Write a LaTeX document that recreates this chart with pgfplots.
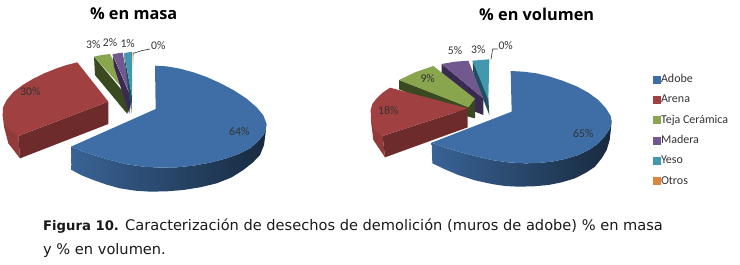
\documentclass[border=0pt]{standalone}
\usepackage{pgfplots}
\pgfplotsset{compat=1.18}
\usepackage{fontspec}
\setmainfont{Carlito}
\newfontfamily\capfont{DejaVu Sans}
\newfontfamily\titfont{Open Sans}
\definecolor{cBlue}{HTML}{3F6EA6}
\definecolor{cRed}{HTML}{A04040}
\definecolor{cGreen}{HTML}{89A54E}
\definecolor{cPurple}{HTML}{71588F}
\definecolor{cTeal}{HTML}{4198AF}
\definecolor{cOrange}{HTML}{DB843D}
\definecolor{dGreen}{HTML}{3A4A20}
\definecolor{dPurple}{HTML}{3A2A50}
\definecolor{dTeal}{HTML}{1F4F5E}
\definecolor{dRed}{HTML}{6E2B2B}
\definecolor{lab}{HTML}{333333}
\pgfplotsset{
  canvas/.style={hide axis, scale only axis, width=740pt, height=265pt,
    ymin=0, ymax=795, y dir=reverse, clip=false, axis on top=false},
  face/.style={draw=none, no markers, forget plot, line width=0pt},
  blueside/.style={face, shade, left color=cBlue!90!black, middle color=cBlue!62!black, right color=cBlue!38!black, shading angle=90},
}
\begin{document}
\begin{tikzpicture}
\path[use as bounding box] (0pt,0pt) rectangle (740pt,265pt);
\begin{axis}[canvas, at={(0pt,0pt)}, xmin=0, xmax=2220,
  legend cell align=left,
  legend style={at={(axis cs:1959,224)}, anchor=north west, draw=none, fill=none,
    inner sep=0pt, outer sep=0pt, row sep=10.3pt, font=\fontsize{12}{12}\selectfont\color{lab},
    nodes={inner sep=0pt, text height=8pt, text depth=2pt, xshift=-2pt}},
  legend image code/.code={\path[#1,draw=none] (0pt,-4pt) rectangle (8pt,4pt);}]
% legend
\addlegendimage{fill=cBlue}\addlegendentry{Adobe}
\addlegendimage{fill=cRed}\addlegendentry{Arena}
\addlegendimage{fill=cGreen}\addlegendentry{Teja Cerámica}
\addlegendimage{fill=cPurple}\addlegendentry{Madera}
\addlegendimage{fill=cTeal}\addlegendentry{Yeso}
\addlegendimage{fill=cOrange}\addlegendentry{Otros}
% green, left
\addplot[face, fill=dGreen] coordinates {(282,170)(390,300)(382,342)(285,225)} --cycle;
\addplot[face, fill=cGreen] coordinates {(282,170)(305,165)(330,162)(392,292)} --cycle;
% purple, left
\addplot[face, fill=dPurple] coordinates {(338,165)(392,290)(388,342)(342,200)} --cycle;
\addplot[face, fill=cPurple] coordinates {(338,163)(352,160)(368,158)(393,290)} --cycle;
% teal, left
\addplot[face, fill=dTeal] coordinates {(372,160)(396,290)(394,340)(375,190)} --cycle;
\addplot[face, fill=cTeal] coordinates {(372,160)(384,157)(396,156)(396,290)} --cycle;
\addplot[face, fill=cOrange!60!white] coordinates {(397,157)(402,157)(399,200)} --cycle;
% red, left
\addplot[face, fill=cRed!92!black] coordinates {(8,345)(12,380)(25,430)(60,475)(55,408)} --cycle;
\addplot[face, fill=dRed] coordinates {(55,408)(325,305)(325,372)(60,475)} --cycle;
\addplot[face, fill=cRed] coordinates {(232,187)(200,195)(170,205)(135,219)(100,236)(68,255)(40,276)(20,300)(9,322)(8,345)(15,372)(32,392)(55,408)(325,305)} --cycle;
% blue, left
\addplot[blueside] coordinates {(800,372)(797,390)(790,405)(773,425)(750,445)(718,461)(680,475)(630,488)(580,497)(530,502)(480,503)(430,500)(380,493)(330,480)(280,465)(245,453)(213,440)(215,510)(245,526)(280,540)(320,554)(360,565)(405,572)(450,575)(500,574)(550,570)(600,562)(650,550)(695,532)(730,510)(758,488)(780,465)(792,435)(796,405)} --cycle;
\addplot[face, fill=cBlue] coordinates {(465,197)(500,199)(540,206)(580,217)(620,231)(660,249)(700,270)(740,296)(770,322)(790,346)(800,372)(797,390)(790,405)(773,425)(750,445)(718,461)(680,475)(630,488)(580,497)(530,502)(480,503)(430,500)(380,493)(330,480)(280,465)(245,453)(213,440)(467,327)} --cycle;
% leader
\addplot[no markers, forget plot, color=black!80, line width=0.6pt] coordinates {(400,160)(425,152)(450,147)};
% text
\node[font=\titfont\fontsize{16.3}{18}\selectfont\bfseries] at (axis cs:401,42) {\% en masa};
\begin{scope}[every node/.style={font=\fontsize{11.7}{12}\selectfont, text=lab}]
\node at (axis cs:91,276) {30\%};
\node at (axis cs:718,395) {64\%};
\node at (axis cs:280,134) {3\%};
\node at (axis cs:330,127) {2\%};
\node at (axis cs:383,130) {1\%};
\node at (axis cs:475,137) {0\%};
\end{scope}
\node[anchor=west, inner sep=0pt, font=\capfont\fontsize{14.6}{15}\selectfont, text=black!90] at (axis cs:129,678) {{\fontsize{13.2}{15}\selectfont\textbf{Figura 10.}} Caracterización de desechos de demolición (muros de adobe) \% en masa};
\node[anchor=west, inner sep=0pt, font=\capfont\fontsize{14.6}{15}\selectfont, text=black!90] at (axis cs:129,750) {y \% en volumen.};
\end{axis}
\begin{axis}[canvas, at={(0pt,0pt)}, xmin=-1080, xmax=1140]
% teal, right
\addplot[face, fill=dTeal] coordinates {(338,182)(385,295)(388,345)(340,222)} --cycle;
\addplot[face, fill=cTeal] coordinates {(338,182)(362,180)(388,178)(385,300)} --cycle;
% purple, right
\addplot[face, fill=dPurple] coordinates {(245,192)(370,295)(370,345)(345,335)(245,222)} --cycle;
\addplot[face, fill=cPurple] coordinates {(245,192)(285,185)(325,182)(370,295)} --cycle;
% green, right
\addplot[face, fill=dGreen] coordinates {(117,240)(325,320)(345,298)(345,355)(325,350)(117,268)} --cycle;
\addplot[face, fill=cGreen] coordinates {(117,240)(165,217)(220,198)(345,296)(325,322)} --cycle;
% red, right
\addplot[face, fill=cRed!92!black] coordinates {(33,365)(40,420)(75,472)(68,408)} --cycle;
\addplot[face, fill=dRed] coordinates {(68,408)(323,325)(323,382)(75,472)} --cycle;
\addplot[face, fill=cRed] coordinates {(90,263)(68,278)(50,295)(37,312)(32,330)(33,365)(45,392)(68,408)(323,325)} --cycle;
% blue, right
\addplot[blueside] coordinates {(755,360)(750,385)(737,405)(715,430)(688,449)(655,465)(615,477)(575,485)(535,489)(495,490)(445,487)(395,480)(345,468)(295,455)(255,443)(215,428)(217,490)(255,508)(295,525)(345,541)(395,552)(435,558)(475,560)(520,559)(565,555)(605,547)(645,535)(678,518)(705,500)(725,475)(740,450)(749,420)(753,385)} --cycle;
\addplot[face, fill=cBlue] coordinates {(452,213)(490,215)(530,220)(570,230)(610,243)(650,259)(685,278)(715,300)(738,325)(752,348)(755,365)(750,385)(737,405)(715,430)(688,449)(655,465)(615,477)(575,485)(535,489)(495,490)(445,487)(395,480)(345,468)(295,455)(255,443)(215,428)(455,335)} --cycle;
\addplot[no markers, forget plot, color=black!80, line width=0.6pt] coordinates {(393,178)(398,147)(413,147)};
\node[font=\titfont\fontsize{16.3}{18}\selectfont\bfseries] at (axis cs:530,42) {\% en volumen};
\begin{scope}[every node/.style={font=\fontsize{11.7}{12}\selectfont, text=lab}]
\node at (axis cs:670,400) {65\%};
\node at (axis cs:85,333) {18\%};
\node at (axis cs:203,235) {9\%};
\node at (axis cs:285,153) {5\%};
\node at (axis cs:355,148) {3\%};
\node at (axis cs:437,137) {0\%};
\end{scope}
\end{axis}
\end{tikzpicture}
\end{document}
